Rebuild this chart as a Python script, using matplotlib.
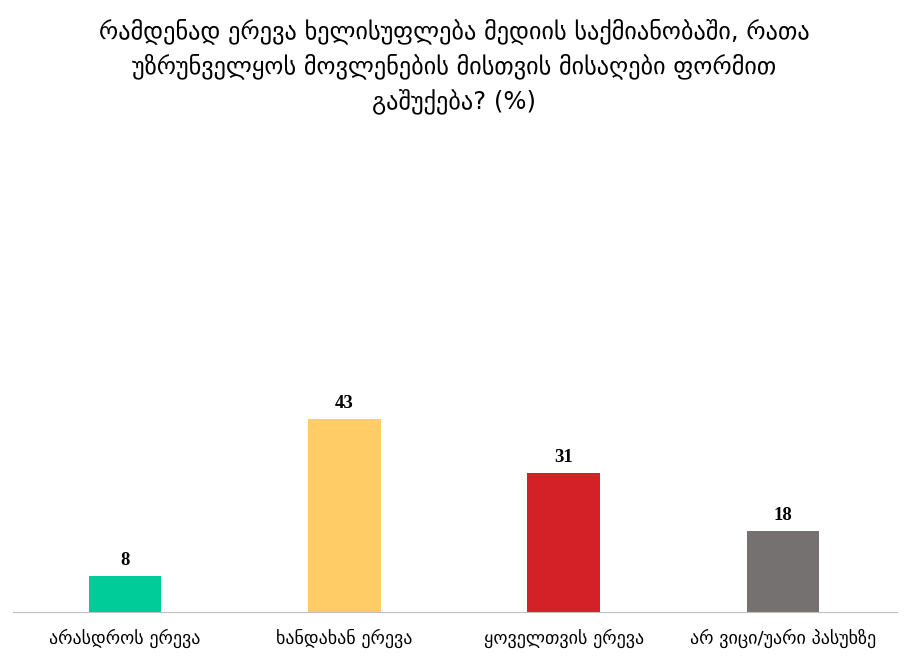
import matplotlib
matplotlib.use('Agg')
import matplotlib.pyplot as plt

categories = ['არასდროს ერევა', 'ხანდახან ერევა', 'ყოველთვის ერევა', 'არ ვიცი/უარი პასუხზე']
values = [8, 43, 31, 18]
colors = ['#00CC99', '#FFCC66', '#D42027', '#767171']

title = ('რამდენად ერევა ხელისუფლება მედიის საქმიანობაში, რათა\n'
         'უზრუნველყოს მოვლენების მისთვის მისაღები ფორმით\n'
         'გაშუქება? (%)')

plt.rcParams['font.family'] = ['DejaVu Sans']

fig = plt.figure(figsize=(9.08, 6.6), dpi=100)
ax = fig.add_axes([13 / 908, 48 / 660, 884 / 908, 269 / 660])

x = range(len(categories))
ax.bar(x, values, width=0.33, color=colors)
for i, v in enumerate(values):
    ax.text(i, v + 1.6, str(v), ha='center', va='bottom', fontsize=13.5,
            fontweight='bold', family='Liberation Serif')

ax.set_xlim(-0.511, 3.52)
ax.set_ylim(0, 60)
ax.set_xticks(list(x))
ax.set_xticklabels(categories, fontsize=13)
ax.tick_params(axis='x', length=0, pad=12)
ax.set_yticks([])
for s in ['top', 'right', 'left']:
    ax.spines[s].set_visible(False)
ax.spines['bottom'].set_color('#BFBFBF')

fig.text(0.5, 0.972, title, ha='center', va='top', fontsize=17.5, linespacing=1.45)

fig.savefig('out.png', dpi=100)
